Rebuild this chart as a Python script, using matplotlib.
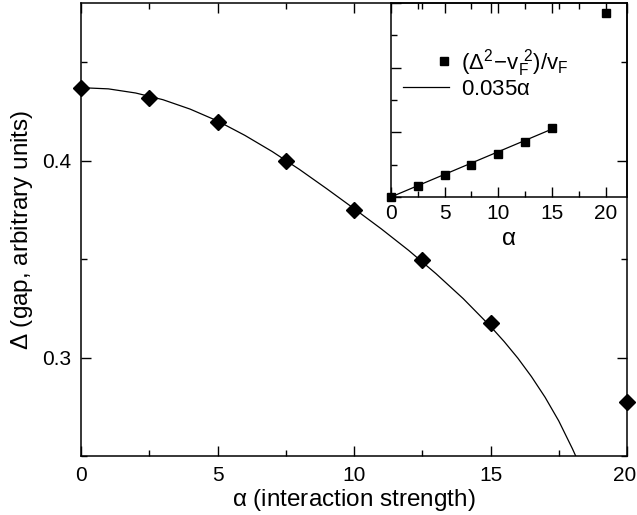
import matplotlib
matplotlib.use('Agg')
import matplotlib.pyplot as plt
from matplotlib.ticker import MultipleLocator
from matplotlib.legend_handler import HandlerLine2D
from matplotlib.transforms import ScaledTranslation

plt.rcParams['font.family'] = ['Liberation Sans', 'DejaVu Sans']
plt.rcParams['mathtext.fontset'] = 'custom'
plt.rcParams['mathtext.rm'] = 'Liberation Sans'
plt.rcParams['mathtext.it'] = 'Liberation Sans'
plt.rcParams['mathtext.bf'] = 'Liberation Sans:bold'

# main panel: gap vs interaction strength
alpha = [0, 2.5, 5, 7.5, 10, 12.5, 15, 20]
gap = [0.437, 0.432, 0.4197, 0.400, 0.375, 0.3495, 0.3177, 0.2773]

# fitted curve
fit_alpha = [0, 1, 2, 3, 4, 5, 6, 7, 8, 9, 10, 11, 12, 13, 14, 15, 15.5, 16,
             16.5, 17, 17.5, 18, 18.15]
fit_gap = [0.4370, 0.4364, 0.4343, 0.4309, 0.4261, 0.4201, 0.4128, 0.4046, 0.3955,
           0.3857, 0.3756, 0.3653, 0.3544, 0.3426, 0.3299, 0.3158, 0.3081, 0.2997,
           0.2903, 0.2798, 0.2678, 0.2537, 0.2491]

# inset: (gap^2 - vF^2)/vF
inset_alpha = [0, 2.5, 5, 7.5, 10, 12.5, 15, 20]
inset_val = [0.0, 0.087, 0.172, 0.250, 0.332, 0.425, 0.533, 1.42]
line_alpha = [0, 15]
line_val = [0.035 * a for a in line_alpha]


class RightMarker(HandlerLine2D):
    def get_xdata(self, legend, xdescent, ydescent, width, height, fontsize):
        x = [-xdescent + width - 0.2 * fontsize]
        return x, x


fig = plt.figure(figsize=(6.37, 5.15), dpi=100)
ax = fig.add_axes([0.1272, 0.1146, 0.8571, 0.8796])

ax.plot(fit_alpha, fit_gap, color='black', lw=0.9)
ax.plot(alpha, gap, 'D', color='black', ms=8.5, clip_on=False, zorder=5)

ax.set_xlim(0, 20)
ax.set_ylim(0.25, 0.48)
ax.xaxis.set_major_locator(MultipleLocator(5))
ax.xaxis.set_minor_locator(MultipleLocator(2.5))
ax.yaxis.set_major_locator(MultipleLocator(0.1))
ax.yaxis.set_minor_locator(MultipleLocator(0.05))
ax.tick_params(which='both', direction='in', top=True, right=True, width=1)
ax.tick_params(which='major', length=7, labelsize=15, pad=7)
ax.tick_params(which='minor', length=4)
for s in ax.spines.values():
    s.set_linewidth(1.1)
ax.set_xlabel(r'$\alpha$ (interaction strength)', fontsize=17.5, labelpad=2)
ax.set_ylabel(r'$\Delta$ (gap, arbitrary units)', fontsize=17.5, labelpad=5)

# keep the last x label inside the figure, as in the original
fig.canvas.draw()
for t in ax.xaxis.get_major_ticks():
    if abs(t.get_loc() - 20) < 1e-6:
        t.label1.set_horizontalalignment('right')
        t.label1.set_transform(t.label1.get_transform()
                               + ScaledTranslation(7 / 72, 0, fig.dpi_scale_trans))

ins = fig.add_axes([0.6138, 0.6175, 0.3705, 0.3767])
ins.patch.set_alpha(0)
sq, = ins.plot(inset_alpha, inset_val, 's', color='black', ms=6, clip_on=False, zorder=5,
               label=r'$(\Delta^2\!-\!v_F^{\ 2})/v_F$')
ln, = ins.plot(line_alpha, line_val, color='black', lw=0.9, label=r'0.035$\alpha$')
ins.set_xlim(0, 22)
ins.set_ylim(0, 1.5)
ins.xaxis.set_major_locator(MultipleLocator(5))
ins.xaxis.set_minor_locator(MultipleLocator(2.5))
ins.yaxis.set_major_locator(MultipleLocator(0.5))
ins.yaxis.set_minor_locator(MultipleLocator(0.25))
ins.tick_params(which='both', direction='in', top=True, right=False, width=1)
ins.tick_params(which='major', length=7, labelsize=15, pad=5)
ins.tick_params(which='minor', length=4)
ins.tick_params(axis='y', which='both', labelleft=False)
for s in ins.spines.values():
    s.set_linewidth(1.1)
ins.set_xlabel(r'$\alpha$', fontsize=17.5, labelpad=4)
ins.legend(handles=[sq, ln], handler_map={sq: RightMarker()}, loc='upper left',
           bbox_to_anchor=(0.052, 0.775), frameon=False, fontsize=16,
           handlelength=2.05, handletextpad=0.55, labelspacing=0.0,
           borderpad=0, borderaxespad=0)

fig.savefig('out.png', dpi=100)
